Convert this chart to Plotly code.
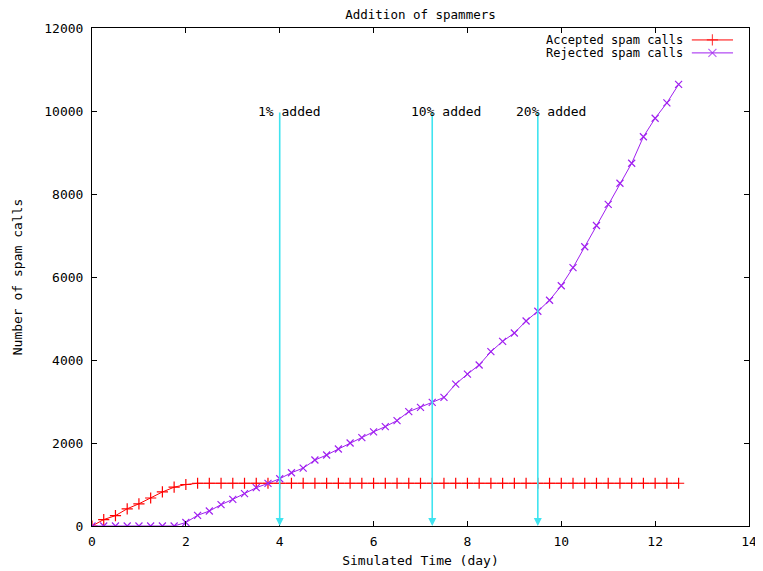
import plotly.graph_objects as go

# ---- data ----
days = [0.0, 0.25, 0.5, 0.75, 1.0, 1.25, 1.5, 1.75, 2.0, 2.25, 2.5, 2.75,
        3.0, 3.25, 3.5, 3.75, 4.0, 4.25, 4.5, 4.75, 5.0, 5.25, 5.5, 5.75,
        6.0, 6.25, 6.5, 6.75, 7.0, 7.25, 7.5, 7.75, 8.0, 8.25, 8.5, 8.75,
        9.0, 9.25, 9.5, 9.75, 10.0, 10.25, 10.5, 10.75, 11.0, 11.25, 11.5,
        11.75, 12.0, 12.25, 12.5]

accepted = [0, 155, 250, 415, 535, 675, 820, 935, 1000, 1030, 1030, 1030,
            1030, 1030, 1030, 1030, 1030, 1030, 1030, 1030, 1030, 1030, 1030, 1030,
            1030, 1030, 1030, 1030, 1030, 1030, 1030, 1030, 1030, 1030, 1030, 1030,
            1030, 1030, 1030, 1030, 1030, 1030, 1030, 1030, 1030, 1030, 1030,
            1030, 1030, 1030, 1030]

rejected = [0, 0, 0, 0, 0, 0, 0, 0, 85, 257, 361, 514,
            642, 779, 923, 1026, 1139, 1284, 1395, 1590, 1710, 1855, 2000, 2130,
            2270, 2395, 2540, 2755, 2860, 2980, 3100, 3420, 3660, 3880, 4200, 4450,
            4650, 4940, 5175, 5440, 5790, 6225, 6730, 7240, 7750, 8260, 8740,
            9380, 9825, 10195, 10640]

event_days = [4.0, 7.25, 9.5]
event_labels = ["1% added", "10% added", "20% added"]
event_top = 10000

series_names = ["Accepted spam calls", "Rejected spam calls"]

x_ticks = [0, 2, 4, 6, 8, 10, 12, 14]
x_tick_text = ["0", "2", "4", "6", "8", "10", "12", "14"]
y_ticks = [0, 2000, 4000, 6000, 8000, 10000, 12000]
y_tick_text = ["0", "2000", "4000", "6000", "8000", "10000", "12000"]

# ---- style ----
FONT = "DejaVu Sans Mono"
FS = 13
RED = "#ff0000"
PURPLE = "#a020f0"
CYAN = "#40e4f0"

# the page body has an 8px margin, so the figure is drawn 8px smaller
PAGE_OFFSET = 8
FIG_W = 763 - PAGE_OFFSET
FIG_H = 571 - PAGE_OFFSET

fig = go.Figure()

fig.add_trace(go.Scatter(
    x=days, y=accepted, mode="lines+markers", name=series_names[0],
    line=dict(color=RED, width=1),
    marker=dict(symbol="cross-thin", size=8, line=dict(color=RED, width=1.2)),
    showlegend=False))

fig.add_trace(go.Scatter(
    x=days, y=rejected, mode="lines+markers", name=series_names[1],
    line=dict(color=PURPLE, width=1),
    marker=dict(symbol="x-thin", size=7, line=dict(color=PURPLE, width=1.2)),
    showlegend=False))

# legend samples (gnuplot style: text left, sample on right) drawn on an overlay axis
legend_rows = [0.976, 0.950]
for name, color, sym, row in zip(series_names, [RED, PURPLE],
                                 ["cross-thin", "x-thin"], legend_rows):
    fig.add_trace(go.Scatter(
        x=[0.913, 0.9443, 0.9757], y=[row, row, row], mode="lines+markers",
        xaxis="x2", yaxis="y2", hoverinfo="skip", showlegend=False,
        line=dict(color=color, width=1),
        marker=dict(symbol=sym, size=[0, 8, 0],
                    line=dict(color=color, width=1.2))))
    fig.add_annotation(xref="paper", yref="paper", x=0.9026, y=row,
                       xanchor="right", yanchor="middle", showarrow=False,
                       text=name, font=dict(family=FONT, size=12, color="black"))

# event arrows and labels
for d, lab in zip(event_days, event_labels):
    fig.add_annotation(x=d, y=0, ax=d, ay=event_top, xref="x", yref="y",
                       axref="x", ayref="y", showarrow=True, text="",
                       arrowhead=2, arrowsize=1.0, arrowwidth=1.6,
                       arrowcolor=CYAN)
    fig.add_annotation(x=d - 0.5, y=event_top, xref="x", yref="y",
                       xanchor="left", yanchor="middle", showarrow=False,
                       text=lab, font=dict(family=FONT, size=FS, color="black"))

axis_common = dict(showline=True, linecolor="black", linewidth=1, mirror="ticks",
                   ticks="inside", ticklen=5, tickcolor="black", showgrid=False,
                   zeroline=False, automargin=False,
                   tickfont=dict(family=FONT, size=FS, color="black"))

fig.update_layout(
    width=FIG_W, height=FIG_H,
    margin=dict(l=92 - PAGE_OFFSET, r=14, t=28 - PAGE_OFFSET, b=45, autoexpand=False),
    paper_bgcolor="white", plot_bgcolor="white",
    title=dict(text="Addition of spammers", x=0.5, xref="paper",
               y=1 - 2 / FIG_H, yref="container", xanchor="center", yanchor="top",
               pad=dict(t=0),
               font=dict(family=FONT, size=12.5, color="black")),
    xaxis=dict(range=[0, 14], tickvals=x_ticks, ticktext=x_tick_text,
               ticklabelstandoff=3,
               title=dict(text="Simulated Time (day)", standoff=8,
                          font=dict(family=FONT, size=FS, color="black")),
               **axis_common),
    yaxis=dict(range=[0, 12000], tickvals=y_ticks, ticktext=y_tick_text,
               ticklabelstandoff=5,
               title=dict(text="Number of spam calls", standoff=18,
                          font=dict(family=FONT, size=FS, color="black")),
               **axis_common),
    xaxis2=dict(range=[0, 1], overlaying="x", visible=False, fixedrange=True),
    yaxis2=dict(range=[0, 1], overlaying="y", visible=False, fixedrange=True),
    showlegend=False,
)

fig.write_html("out.html")
